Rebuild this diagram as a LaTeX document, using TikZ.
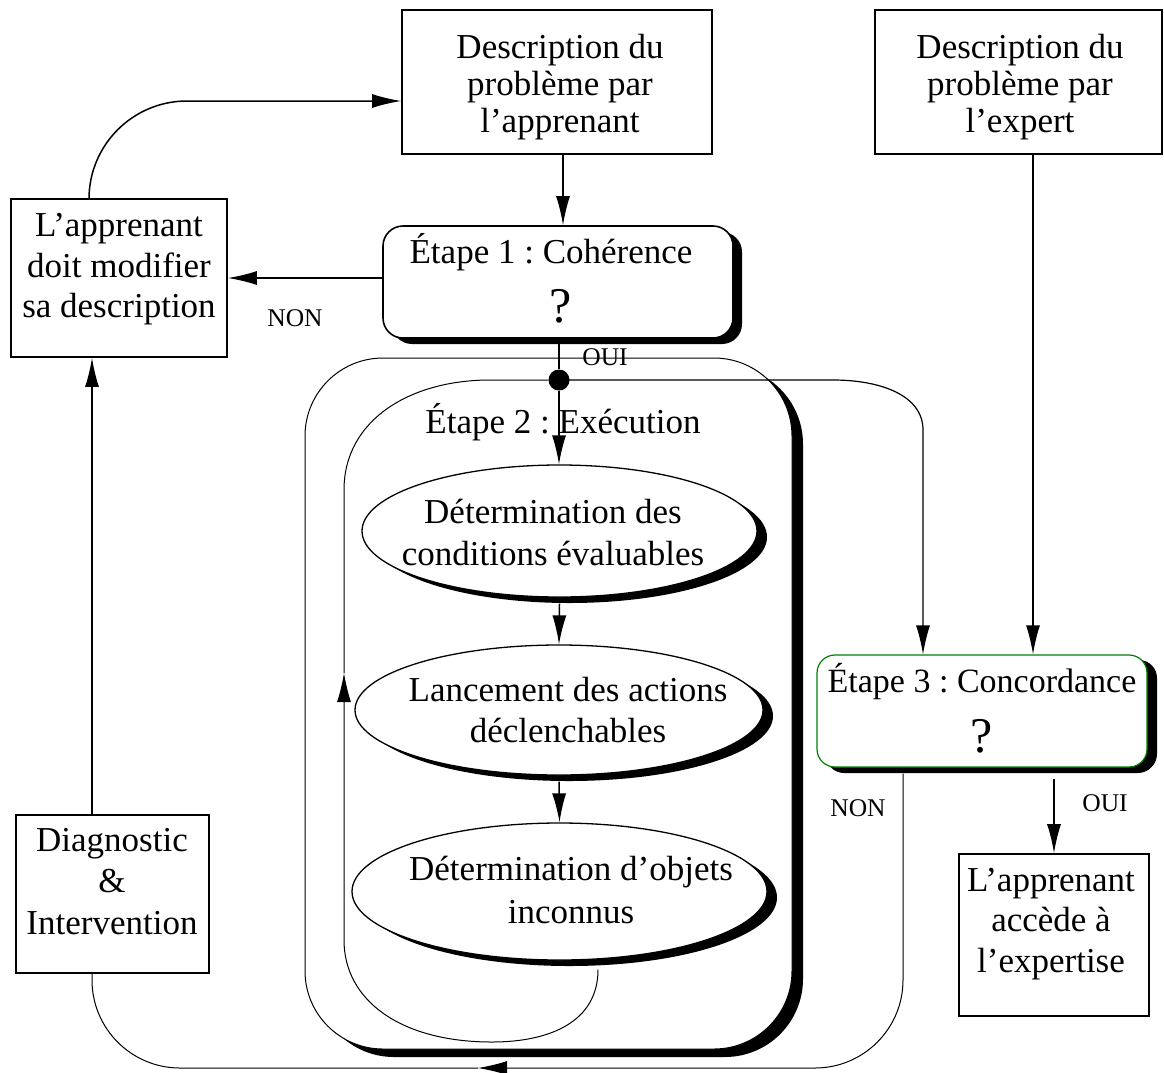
\documentclass[tikz,border=0pt]{standalone}
\usepackage{fontspec}
\setmainfont{Liberation Serif}
\usetikzlibrary{arrows.meta,shapes.geometric,shadows}
\definecolor{stepgreen}{RGB}{0,128,0}
\frenchspacing

\tikzset{
  big/.style={font=\fontsize{35}{41}\selectfont},
  small/.style={font=\fontsize{25.5}{30}\selectfont, inner sep=0pt},
  qmark/.style={font=\fontsize{50}{50}\selectfont, inner sep=0pt},
  box/.style={draw, line width=1.6pt, rectangle, inner sep=0pt},
  stepbox/.style={draw, line width=1.6pt, fill=white, rounded corners=20pt, inner sep=0pt,
    general shadow={fill=black, shadow xshift=9pt, shadow yshift=-6pt}},
  oval/.style={ellipse, draw, line width=1.3pt, fill=white, inner sep=0pt,
    general shadow={fill=black, shadow xshift=10pt, shadow yshift=-6pt}},
  txt/.style={align=center, inner sep=0pt},
  arr/.style={-{Latex[length=29pt,width=14pt]}, line width=1.5pt},
  thinl/.style={line width=1pt},
  thinarr/.style={-{Latex[length=29pt,width=14pt]}, line width=1pt},
}

\begin{document}
\begin{tikzpicture}[x=1pt,y=-1pt]
\useasboundingbox (0,0) rectangle (1164,1072);

% container of step 2
\node[draw, line width=1pt, fill=white, rounded corners=78pt, minimum width=487pt,
      minimum height=691pt, inner sep=0pt,
      general shadow={fill=black, shadow xshift=11pt, shadow yshift=-8pt}]
      (exec) at (548.5,703.5) {};

% plain boxes
\node[box, minimum width=310pt, minimum height=144pt] (desc) at (557,82) {};
\node[box, minimum width=287pt, minimum height=144pt] (expert) at (1018.5,82) {};
\node[box, minimum width=216pt, minimum height=158pt] (modif) at (119,278) {};
\node[box, minimum width=193pt, minimum height=158pt] (diag) at (112.5,894) {};
\node[box, minimum width=190pt, minimum height=162pt] (access) at (1054,935) {};

\node[txt, font=\fontsize{35}{37}\selectfont] (descT) at (560,86.8)
  {Description du\\problème par\\l’apprenant};
\node[txt, font=\fontsize{35}{37}\selectfont] (expertT) at (1020,86.8)
  {Description du\\problème par\\l’expert};
\node[txt, font=\fontsize{35}{40.5}\selectfont] (modifT) at (119,269.3)
  {L’apprenant\\doit modifier\\sa description};
\node[txt, font=\fontsize{35}{41.5}\selectfont] (diagT) at (112,881.5)
  {Diagnostic\\\&\\Intervention};
\node[txt, font=\fontsize{35}{40.5}\selectfont] (accessT) at (1051,924)
  {L’apprenant\\accède à\\l’expertise};

% decision steps
\node[stepbox, minimum width=350pt, minimum height=112pt] (coh) at (558,282) {};
\node[stepbox, draw=stepgreen, line width=1.2pt, rounded corners=18pt,
      general shadow={fill=black, shadow xshift=10pt, shadow yshift=-5pt},
      minimum width=330pt, minimum height=112pt] (conc) at (982,711) {};

\node[txt, big, anchor=base] (cohT) at (551,263) {Étape 1 : Cohérence};
\node[qmark, anchor=base] (cohQ) at (561,322) {?};
\node[txt, font=\fontsize{34}{40}\selectfont, anchor=base] (concT) at (982,692) {Étape 3 : Concordance};
\node[qmark, anchor=base] (concQ) at (982,752) {?};

% execution loop
\coordinate (loopup) at (344,673);
\node[oval, minimum width=395pt, minimum height=132pt] (cond) at (559.5,531) {};
\node[oval, minimum width=408pt, minimum height=130pt] (act) at (559,710) {};
\node[oval, minimum width=415pt, minimum height=137pt] (obj) at (559.5,891.5) {};

\node[txt, font=\fontsize{35}{42}\selectfont] (condT) at (553,532)
  {Détermination des\\conditions évaluables};
\node[txt, font=\fontsize{35}{41}\selectfont] (actT) at (568,710.5)
  {Lancement des actions\\déclenchables};
\node[txt, font=\fontsize{35}{43}\selectfont] (objT) at (571,889.5)
  {Détermination d’objets\\inconnus};

\node[txt, big, anchor=base] (execT) at (563,433) {Étape 2 : Exécution};

\node[circle, fill=black, inner sep=0pt, minimum size=21pt] (dot) at (559,380) {};

% connectors
\draw[arr] ([xshift=6pt]desc.south) -- ([xshift=6pt]desc.south |- coh.north);
\draw[arr] ([yshift=4pt]coh.west) -- ([yshift=4pt]coh.west -| modif.east);
\draw[arr, rounded corners=98pt] ([xshift=-30pt]modif.north) |- ([yshift=-19pt]desc.west);
\draw[line width=1.5pt] (coh.south -| dot) -- (dot);
\draw[arr] (dot) -- (dot |- cond.north);
\draw[arr] ([yshift=-6pt]cond.south) -- (act.north);
\draw[arr] ([yshift=-6pt]act.south) -- (obj.north);

\draw[thinarr] ([xshift=38.5pt,yshift=-9pt]obj.south)
  .. controls +(0,52) and +(58,0) .. (492,1042)
  .. controls +(-92,0) and +(0,60) .. (344,940) -- (loopup);
\draw[thinl] (loopup) -- (344,490) .. controls (344,420) and (410,380) .. (490,380) -- (dot);

\draw[arr, line width=1.2pt] (dot.center) -- (833,380)
  .. controls (880,380) and (923,395) .. (923,430) -- ([xshift=-59pt]conc.north);
\draw[arr] ([xshift=14.5pt]expert.south) -- ([xshift=14.5pt]expert.south |- conc.north);
\draw[arr] ([yshift=-11pt]conc.south -| access) -- (access.north);

\coordinate (tipB) at (478,1068);
\draw[thinarr, rounded corners=88pt] ([xshift=-79pt,yshift=-6pt]conc.south) |- (tipB);
\draw[thinl, rounded corners=88pt] (tipB) -| ([xshift=-20.5pt]diag.south);
\draw[arr] ([xshift=-20.5pt]diag.north) -- ([xshift=-20.5pt]diag.north |- modif.south);

% branch labels
\node[small] (non1) at (295,318) {NON};
\node[small] (oui1) at (605,357) {OUI};
\node[small] (non2) at (858,808) {NON};
\node[small] (oui2) at (1105,803) {OUI};
\end{tikzpicture}
\end{document}
